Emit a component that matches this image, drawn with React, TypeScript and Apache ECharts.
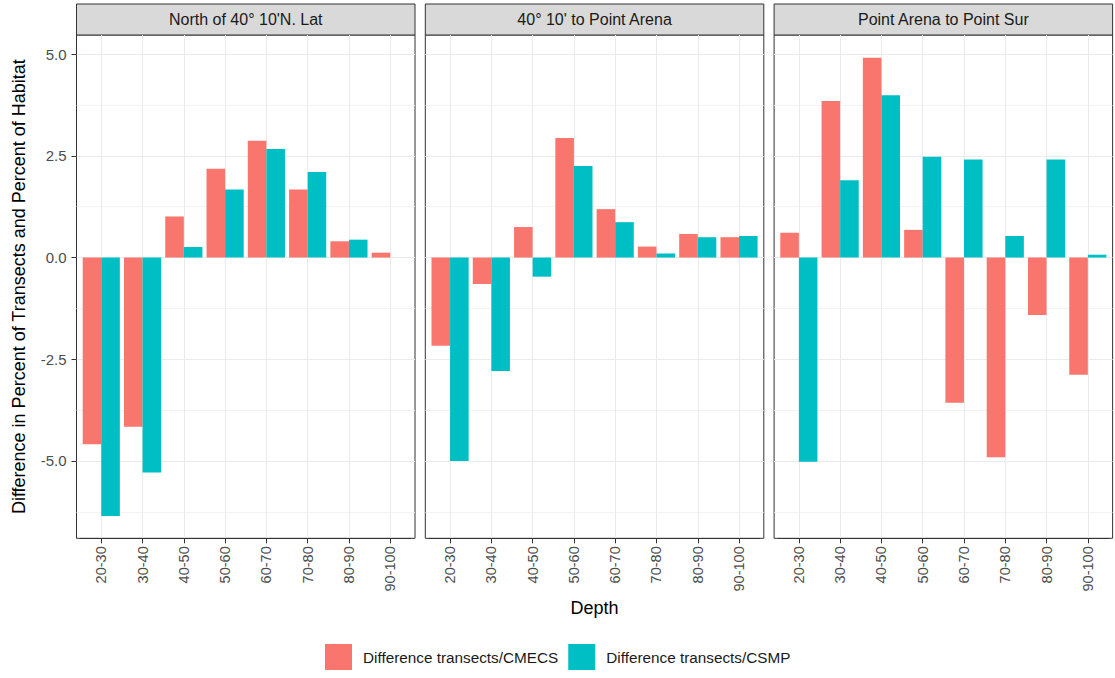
import React, { useEffect, useRef } from "react";
import * as echarts from "echarts";

const depthBins = ["20-30", "30-40", "40-50", "50-60", "60-70", "70-80", "80-90", "90-100"];
const regions = ["North of 40° 10'N. Lat", "40° 10' to Point Arena", "Point Arena to Point Sur"];
const seriesNames = ["Difference transects/CMECS", "Difference transects/CSMP"];
const seriesColors = ["#F8766D", "#00BFC4"];

const cmecsNorth = [-4.59, -4.16, 1.01, 2.18, 2.87, 1.67, 0.4, 0.12];
const csmpNorth = [-6.35, -5.28, 0.26, 1.67, 2.67, 2.1, 0.44, 0];
const cmecsArena = [-2.17, -0.65, 0.75, 2.94, 1.19, 0.27, 0.58, 0.5];
const csmpArena = [-5.0, -2.79, -0.47, 2.25, 0.87, 0.1, 0.5, 0.53];
const cmecsSur = [0.61, 3.85, 4.91, 0.68, -3.57, -4.91, -1.41, -2.88];
const csmpSur = [-5.02, 1.9, 3.99, 2.48, 2.41, 0.53, 2.41, 0.07];

const yMajorTicks = [-5, -2.5, 0, 2.5, 5];
const yMinorTicks = [-6.25, -3.75, -1.25, 1.25, 3.75];

const Y_MIN = -6.9;
const Y_MAX = 5.47;

const FONT = "'Liberation Sans', Arial, sans-serif";

export default function App() {
  const ref = useRef<HTMLDivElement>(null);

  useEffect(() => {
    if (!ref.current) return;
    const chart = echarts.init(ref.current, undefined, { renderer: "svg" });

    const panelData = [
      [cmecsNorth, csmpNorth],
      [cmecsArena, csmpArena],
      [cmecsSur, csmpSur],
    ];

    const TOP = 35;
    const HEIGHT = 503.3;
    const PANEL_LEFT = 76.5;
    const PANEL_W = 338.5;
    const PANEL_GAP = 10.3;
    const band = PANEL_W / 8.2;

    const grids: any[] = [];
    const xAxes: any[] = [];
    const yAxes: any[] = [];
    const series: any[] = [];
    const graphics: any[] = [];

    regions.forEach((region, i) => {
      const L = PANEL_LEFT + i * (PANEL_W + PANEL_GAP);
      grids.push({
        left: L,
        top: TOP,
        width: PANEL_W,
        height: HEIGHT,
        show: true,
        borderColor: "#333333",
        borderWidth: 1,
        backgroundColor: "transparent",
      });
      grids.push({
        left: L + 0.1 * band,
        top: TOP,
        width: 8 * band,
        height: HEIGHT,
      });

      xAxes.push({
        type: "value",
        gridIndex: 2 * i,
        min: 0,
        max: 1,
        show: false,
      });
      xAxes.push({
        type: "category",
        gridIndex: 2 * i + 1,
        data: depthBins,
        axisLine: { show: true, onZero: false, lineStyle: { color: "#333333", width: 1 } },
        axisTick: { show: true, alignWithLabel: true, length: 5, lineStyle: { color: "#333333" } },
        axisLabel: {
          rotate: 90,
          fontSize: 14.5,
          color: "#4D4D4D",
          margin: 8,
          fontFamily: FONT,
          interval: 0,
        },
        splitLine: { show: true, alignWithLabel: true, lineStyle: { color: "#EBEBEB", width: 1 } },
        name: i === 1 ? "Depth" : "",
        nameLocation: "middle",
        nameGap: 57,
        nameTextStyle: { fontSize: 18, color: "#000000", fontFamily: FONT },
      });

      yAxes.push({
        type: "value",
        gridIndex: 2 * i,
        min: Y_MIN,
        max: Y_MAX,
        position: "left",
        axisLine: { show: false },
        axisTick: {
          show: i === 0,
          customValues: yMajorTicks,
          length: 5,
          lineStyle: { color: "#333333" },
        },
        axisLabel: {
          show: i === 0,
          customValues: yMajorTicks,
          formatter: (v: number) => v.toFixed(1),
          fontSize: 15,
          color: "#4D4D4D",
          margin: 10,
          fontFamily: FONT,
        },
        splitLine: { show: true, lineStyle: { color: "#EBEBEB", width: 1 } },
        name: i === 0 ? "Difference in Percent of Transects and Percent of Habitat" : "",
        nameLocation: "middle",
        nameGap: 49,
        nameTextStyle: { fontSize: 18, color: "#000000", fontFamily: FONT },
      });
      yAxes.push({
        type: "value",
        gridIndex: 2 * i,
        min: Y_MIN,
        max: Y_MAX,
        position: "left",
        axisLine: { show: false },
        axisTick: { show: false, customValues: yMinorTicks },
        axisLabel: { show: false, customValues: yMinorTicks },
        splitLine: { show: true, lineStyle: { color: "#F0F0F0", width: 0.8 } },
      });
      yAxes.push({
        type: "value",
        gridIndex: 2 * i + 1,
        min: Y_MIN,
        max: Y_MAX,
        show: false,
      });

      panelData[i].forEach((vals, s) => {
        series.push({
          type: "bar",
          name: seriesNames[s],
          xAxisIndex: 2 * i + 1,
          yAxisIndex: 3 * i + 2,
          data: vals,
          barGap: "0%",
          barCategoryGap: "10%",
          itemStyle: { color: seriesColors[s] },
          emphasis: { disabled: true },
        });
      });

      graphics.push({
        type: "rect",
        shape: { x: L, y: 4, width: PANEL_W, height: TOP - 4 },
        style: { fill: "#D9D9D9", stroke: "#333333", lineWidth: 1 },
      });
      graphics.push({
        type: "text",
        x: L + PANEL_W / 2,
        y: (TOP + 4) / 2,
        style: {
          text: region,
          fontSize: 16,
          fill: "#1A1A1A",
          fontFamily: FONT,
          align: "center",
          verticalAlign: "middle",
        },
      });
    });

    chart.setOption({
      animation: false,
      backgroundColor: "#FFFFFF",
      textStyle: { fontFamily: FONT },
      grid: grids,
      xAxis: xAxes,
      yAxis: yAxes,
      series,
      graphic: graphics,
      legend: {
        data: seriesNames,
        left: 325,
        top: 644,
        padding: 0,
        itemWidth: 27,
        itemHeight: 26,
        itemGap: 10,
        icon: "rect",
        selectedMode: false,
        textStyle: { fontSize: 15.3, color: "#1A1A1A", fontFamily: FONT, padding: [0, 0, 0, 6] },
      },
    });

    return () => chart.dispose();
  }, []);

  return (
    <div
      ref={ref}
      style={{ position: "fixed", left: 0, top: 0, width: 1115, height: 678, background: "#FFFFFF" }}
    />
  );
}
